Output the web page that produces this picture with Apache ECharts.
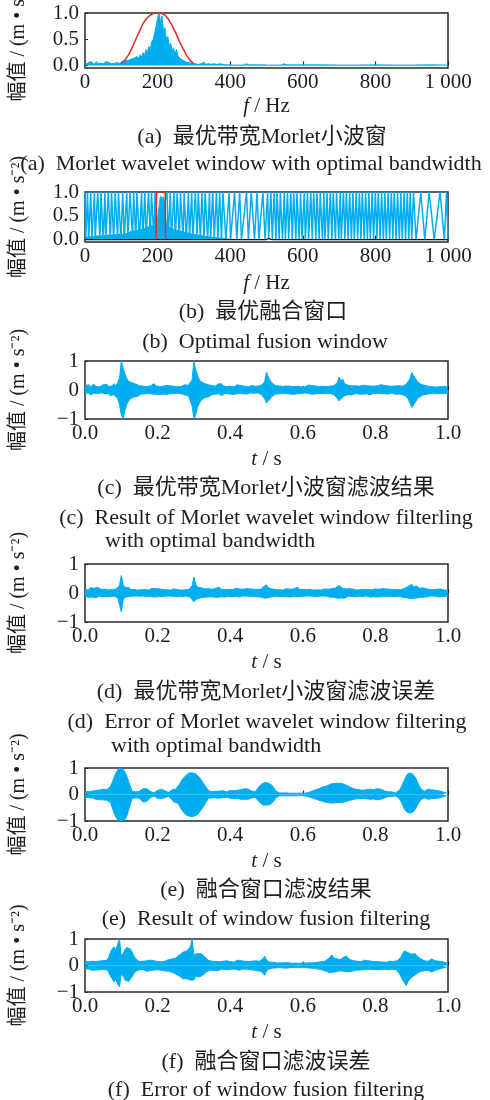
<!DOCTYPE html>
<html>
<head>
<meta charset="utf-8">
<script src="https://cdn.jsdelivr.net/npm/echarts@6.0.0/dist/echarts.min.js"></script>
<style>
  html, body { margin: 0; padding: 0; background: #fff; }
  #chart { width: 490px; height: 1100px; }
</style>
</head>
<body>
<div id="chart"></div>
<script>
// (a) spectrum, 4 Hz steps from 0 to 596 Hz, then 50 Hz steps from 600 Hz
const spectrumStep = 4;
const spectrumA = [
  0.05,0.06,0.03,0.07,0.04,0.06,0.02,0.05,0.07,0.03,0.06,0.04,0.05,0.03,0.07,0.04,0.06,0.05,0.03,0.06,0.04,0.07,0.05,0.06,0.04,
  0.06,0.08,0.05,0.09,0.07,0.1,0.08,0.12,0.09,0.14,0.11,0.17,0.13,0.2,0.16,0.24,0.19,0.3,0.25,0.36,0.3,0.45,0.5,0.62,0.75,
  0.9,1.0,0.82,0.95,0.66,0.72,0.5,0.55,0.38,0.42,0.28,0.33,0.22,0.3,0.18,0.2,0.12,0.15,0.09,0.1,0.06,0.08,0.05,0.07,0.04,
  0.05,0.03,0.06,0.02,0.05,0.03,0.04,0.06,0.02,0.05,0.03,0.04,0.02,0.05,0.03,0.06,0.02,0.04,0.03,0.05,0.02,0.04,0.01,0.02,0.01,
  0.01,0.005,0.01,0.005,0.01,0.005,0.01,0.005,0.01,0.005,0.01,0.03,0.005,0.01,0.005,0.01,0.005,0.01,0.005,0.01,0.005,0.01,0.005,0.01,0.03,
  0.005,0.01,0.005,0.01,0.005,0.01,0.005,0.01,0.005,0.01,0.005,0.01,0.03,0.005,0.01,0.005,0.01,0.005,0.01,0.005,0.01,0.005,0.01,0.005,0.01
];
const spectrumTailStart = 600;
const spectrumTailStep = 50;
const spectrumTail = [0.005,0.01,0.005,0.005,0.01,0.005,0.005,0.01,0.005];

// (a) Morlet window (red)
const morletHz = [100,110,120,130,140,150,160,170,180,190,200,210,220,230,240,250,260,270,280,290,300];
const morletAmp = [0.04,0.1,0.2,0.34,0.5,0.65,0.8,0.9,0.96,1.0,1.0,1.0,0.96,0.88,0.76,0.62,0.46,0.32,0.19,0.09,0.03];

// (b) low spectrum band, 4 Hz steps from 0 to 396 Hz
const fusionBand = [
  0.06,0.08,0.05,0.09,0.07,0.1,0.06,0.09,0.08,0.11,0.07,0.1,0.09,0.12,0.08,0.11,0.1,0.13,0.09,0.12,0.11,0.14,0.1,0.13,0.12,
  0.14,0.11,0.15,0.13,0.16,0.12,0.17,0.15,0.18,0.14,0.19,0.17,0.2,0.16,0.22,0.19,0.24,0.2,0.26,0.22,0.28,0.25,0.3,0.27,0.33,
  0.45,0.7,0.92,0.85,0.9,0.6,0.35,0.28,0.3,0.25,0.28,0.22,0.26,0.2,0.24,0.18,0.22,0.17,0.2,0.15,0.18,0.14,0.16,0.12,0.15,
  0.11,0.14,0.1,0.12,0.09,0.11,0.08,0.1,0.07,0.09,0.06,0.08,0.05,0.07,0.05,0.06,0.04,0.05,0.03,0.04,0.03,0.02,0.02,0.01,0.01
];
// (b) fused window switching line, [Hz, amplitude]
const switchPts = [
  [0,1],[2,0],[7,1],[10,0],[16,1],[19,0],[26,1],[28,0],[35,1],[41,0],[44,1],[50,0],[55,1],[57,0],[64,1],[70,0],
  [73,1],[79,0],[83,1],[90,0],[92,1],[99,0],[104,1],[108,0],[115,1],[118,0],[124,1],[131,0],[134,1],[140,0],
  [143,1],[150,0],[156,1],[159,0],[165,1],[168,0],[175,1],[180,0],[183,1],[190,0],[193,1],[196,0],
  [226,1],[229,0],[235,1],[238,0],[245,1],[249,0],[254,1],[260,0],[263,1],[270,0],[273,1],[279,0],[285,1],[288,0],
  [294,1],[297,0],[304,1],[309,0],[312,1],[318,0],[322,1],[328,0],[331,1],[338,0],[343,1],[346,0],[352,1],[356,0],
  [362,1],[366,0],[371,1],[376,0],
  [380,1],[388,0],[397,1],[401,0],[412,1],[418,0],[426,1],[431,0],[445,1],[450,0],[458,1],[467,0],[474,1],[479,0],
  [490,1],[496,0],
  [503,1],[506,0],[512,1],[516,0],[521,1],[526,0],[529,1],[535,0],[538,1],[544,0],[549,1],[552,0],[558,1],[561,0],
  [567,1],[571,0],[575,1],[581,0],[584,1],[590,0],[594,1],[598,0],[604,1],[607,0],[613,1],[616,0],[622,1],[626,0],
  [630,1],[636,0],[639,1],[645,0],[648,1],[654,0],[658,1],[661,0],[667,1],[670,0],[676,1],[680,0],[684,1],[690,0],
  [693,1],[699,0],[703,1],[706,0],[712,1],[716,0],[720,1],[725,0],[729,1],[734,0],[738,1],[742,0],[747,1],[751,0],
  [756,1],[760,0],[764,1],[769,0],[773,1],[778,0],[782,1],[786,0],[791,1],[795,0],[800,1],[804,0],[808,1],[813,0],
  [817,1],[822,0],[826,1],[830,0],[835,1],[839,0],[844,1],[848,0],[852,1],[857,0],[861,1],[866,0],[870,1],[874,0],
  [879,1],[883,0],[888,1],[892,0],[896,1],[900,0],
  [905,1],[912,0],[925,1],[936,0],[948,1],[962,0],[978,1],[990,0],[996,1],[1000,0]
];
const fusionWinHz = [196,197,221,222];
const fusionWinAmp = [0,1,1,0];
const baseHz = [0,500,506,512,520,600,605,612,1000];
const baseAmp = [0,0,0.03,0.005,0,0,0.02,0,0];

// (c)-(f) signal envelopes, 0.005 s steps from 0 to 1 s
const timeStep = 0.005;
const morletResultHi = [
  0.15,0.12,0.18,0.1,0.14,0.2,0.12,0.16,0.11,0.15,
  0.18,0.13,0.2,0.12,0.16,0.14,0.22,0.15,0.25,0.4,
  1.0,0.75,0.55,0.4,0.3,0.35,0.25,0.28,0.2,0.18,
  0.15,0.2,0.13,0.17,0.12,0.18,0.14,0.16,0.22,0.14,
  0.15,0.12,0.18,0.13,0.1,0.16,0.12,0.14,0.1,0.13,
  0.15,0.11,0.17,0.12,0.14,0.18,0.13,0.16,0.2,0.35,
  1.0,0.7,0.5,0.35,0.28,0.3,0.22,0.25,0.18,0.2,
  0.15,0.18,0.13,0.2,0.15,0.22,0.14,0.17,0.12,0.15,
  0.13,0.16,0.11,0.14,0.18,0.12,0.15,0.2,0.13,0.15,
  0.12,0.1,0.15,0.11,0.13,0.1,0.14,0.12,0.2,0.3,
  0.62,0.45,0.32,0.25,0.2,0.15,0.12,0.14,0.1,0.12,
  0.11,0.14,0.1,0.13,0.16,0.12,0.18,0.13,0.15,0.11,
  0.14,0.1,0.13,0.17,0.12,0.15,0.11,0.14,0.1,0.12,
  0.11,0.13,0.1,0.12,0.09,0.13,0.11,0.15,0.18,0.25,
  0.45,0.3,0.38,0.22,0.25,0.16,0.2,0.14,0.12,0.15,
  0.1,0.13,0.11,0.16,0.12,0.15,0.11,0.14,0.2,0.13,
  0.12,0.15,0.11,0.18,0.13,0.16,0.12,0.14,0.11,0.13,
  0.1,0.14,0.12,0.15,0.11,0.13,0.16,0.2,0.25,0.38,
  0.6,0.5,0.4,0.3,0.25,0.2,0.22,0.16,0.18,0.13,
  0.15,0.12,0.14,0.1,0.13,0.11,0.15,0.12,0.1,0.13,
  0.12
];
const morletResultLo = [
  -0.12,-0.15,-0.1,-0.17,-0.13,-0.11,-0.16,-0.12,-0.14,-0.1,
  -0.15,-0.12,-0.17,-0.13,-0.2,-0.14,-0.16,-0.22,-0.3,-0.5,
  -0.85,-1.0,-0.7,-0.5,-0.38,-0.3,-0.32,-0.24,-0.2,-0.22,
  -0.17,-0.14,-0.19,-0.13,-0.16,-0.12,-0.18,-0.14,-0.12,-0.15,
  -0.13,-0.16,-0.11,-0.14,-0.12,-0.15,-0.1,-0.13,-0.16,-0.12,
  -0.14,-0.11,-0.16,-0.13,-0.12,-0.17,-0.14,-0.2,-0.25,-0.55,
  -1.0,-0.85,-0.6,-0.45,-0.35,-0.3,-0.26,-0.22,-0.24,-0.18,
  -0.16,-0.19,-0.14,-0.17,-0.13,-0.2,-0.15,-0.12,-0.16,-0.13,
  -0.12,-0.15,-0.11,-0.14,-0.17,-0.12,-0.15,-0.13,-0.11,-0.14,
  -0.12,-0.1,-0.13,-0.11,-0.14,-0.1,-0.12,-0.15,-0.2,-0.3,
  -0.45,-0.38,-0.3,-0.22,-0.18,-0.14,-0.12,-0.13,-0.1,-0.12,
  -0.1,-0.13,-0.11,-0.14,-0.12,-0.15,-0.11,-0.13,-0.1,-0.12,
  -0.13,-0.1,-0.14,-0.11,-0.12,-0.15,-0.1,-0.13,-0.11,-0.12,
  -0.1,-0.12,-0.09,-0.13,-0.11,-0.12,-0.14,-0.16,-0.2,-0.28,
  -0.38,-0.3,-0.25,-0.2,-0.22,-0.16,-0.14,-0.17,-0.13,-0.12,
  -0.11,-0.14,-0.12,-0.15,-0.11,-0.13,-0.12,-0.16,-0.13,-0.12,
  -0.14,-0.11,-0.16,-0.12,-0.15,-0.13,-0.11,-0.14,-0.12,-0.1,
  -0.12,-0.15,-0.11,-0.14,-0.13,-0.16,-0.18,-0.22,-0.3,-0.45,
  -0.6,-0.55,-0.42,-0.32,-0.25,-0.22,-0.18,-0.2,-0.15,-0.16,
  -0.13,-0.15,-0.11,-0.14,-0.12,-0.1,-0.13,-0.11,-0.12,-0.1,
  -0.11
];
const morletErrorHi = [
  0.12,0.15,0.1,0.18,0.13,0.16,0.11,0.2,0.14,0.12,
  0.18,0.13,0.16,0.1,0.15,0.12,0.17,0.14,0.2,0.25,
  0.6,0.3,0.18,0.15,0.2,0.13,0.16,0.12,0.14,0.1,
  0.13,0.11,0.15,0.12,0.14,0.1,0.13,0.16,0.12,0.15,
  0.11,0.14,0.1,0.12,0.15,0.11,0.13,0.1,0.12,0.14,
  0.16,0.12,0.14,0.1,0.13,0.11,0.15,0.12,0.18,0.25,
  0.55,0.3,0.2,0.15,0.18,0.12,0.14,0.11,0.15,0.12,
  0.13,0.1,0.16,0.12,0.2,0.13,0.15,0.11,0.14,0.12,
  0.15,0.11,0.13,0.16,0.12,0.14,0.1,0.13,0.11,0.15,
  0.12,0.14,0.11,0.13,0.18,0.12,0.15,0.13,0.2,0.16,
  0.28,0.18,0.22,0.14,0.17,0.12,0.15,0.11,0.13,0.1,
  0.12,0.15,0.11,0.13,0.1,0.14,0.12,0.2,0.13,0.15,
  0.12,0.16,0.11,0.14,0.12,0.13,0.1,0.12,0.11,0.14,
  0.1,0.12,0.14,0.11,0.13,0.12,0.15,0.13,0.17,0.2,
  0.26,0.2,0.16,0.22,0.14,0.12,0.15,0.11,0.13,0.12,
  0.1,0.14,0.12,0.16,0.11,0.13,0.12,0.15,0.11,0.12,
  0.14,0.11,0.13,0.1,0.15,0.12,0.14,0.11,0.13,0.12,
  0.11,0.13,0.12,0.15,0.11,0.14,0.16,0.18,0.22,0.28,
  0.3,0.22,0.18,0.24,0.16,0.14,0.18,0.12,0.15,0.13,
  0.11,0.14,0.12,0.16,0.13,0.11,0.14,0.12,0.1,0.12,
  0.1
];
const morletErrorLo = [
  -0.12,-0.1,-0.15,-0.11,-0.14,-0.12,-0.16,-0.13,-0.11,-0.14,
  -0.12,-0.16,-0.13,-0.18,-0.12,-0.15,-0.11,-0.13,-0.16,-0.2,
  -0.65,-0.25,-0.15,-0.18,-0.12,-0.14,-0.11,-0.13,-0.1,-0.12,
  -0.11,-0.14,-0.1,-0.13,-0.12,-0.15,-0.11,-0.12,-0.14,-0.11,
  -0.13,-0.1,-0.12,-0.14,-0.11,-0.13,-0.1,-0.12,-0.11,-0.13,
  -0.12,-0.15,-0.11,-0.13,-0.12,-0.14,-0.11,-0.13,-0.15,-0.2,
  -0.3,-0.22,-0.16,-0.18,-0.13,-0.15,-0.12,-0.14,-0.11,-0.13,
  -0.1,-0.14,-0.12,-0.15,-0.11,-0.13,-0.12,-0.14,-0.1,-0.12,
  -0.11,-0.13,-0.15,-0.11,-0.12,-0.14,-0.12,-0.1,-0.13,-0.11,
  -0.13,-0.11,-0.14,-0.12,-0.15,-0.13,-0.11,-0.14,-0.16,-0.18,
  -0.2,-0.16,-0.18,-0.13,-0.15,-0.11,-0.13,-0.12,-0.1,-0.12,
  -0.11,-0.13,-0.12,-0.14,-0.11,-0.12,-0.15,-0.13,-0.11,-0.12,
  -0.13,-0.11,-0.14,-0.1,-0.12,-0.11,-0.13,-0.12,-0.1,-0.11,
  -0.12,-0.1,-0.13,-0.11,-0.12,-0.14,-0.12,-0.15,-0.16,-0.18,
  -0.2,-0.17,-0.15,-0.18,-0.13,-0.11,-0.14,-0.12,-0.1,-0.13,
  -0.12,-0.11,-0.14,-0.12,-0.13,-0.1,-0.12,-0.14,-0.11,-0.13,
  -0.12,-0.14,-0.11,-0.13,-0.1,-0.12,-0.13,-0.11,-0.14,-0.12,
  -0.1,-0.12,-0.14,-0.11,-0.13,-0.15,-0.12,-0.16,-0.18,-0.2,
  -0.22,-0.18,-0.15,-0.17,-0.13,-0.15,-0.12,-0.14,-0.11,-0.13,
  -0.12,-0.1,-0.13,-0.11,-0.12,-0.14,-0.11,-0.12,-0.1,-0.11,
  -0.1
];
const fusionResultHi = [
  0.12,0.15,0.1,0.16,0.13,0.18,0.15,0.2,0.17,0.22,
  0.2,0.25,0.18,0.2,0.3,0.45,0.65,0.8,0.92,1.0,
  1.0,0.95,0.85,0.7,0.5,0.3,0.12,0.08,0.1,0.15,
  0.12,0.18,0.22,0.25,0.22,0.18,0.12,0.08,0.06,0.1,
  0.15,0.18,0.2,0.16,0.14,0.1,0.08,0.12,0.18,0.25,
  0.2,0.3,0.38,0.5,0.6,0.68,0.75,0.8,0.82,0.82,
  0.8,0.78,0.72,0.65,0.55,0.45,0.35,0.25,0.15,0.12,
  0.1,0.14,0.12,0.16,0.13,0.17,0.14,0.12,0.1,0.13,
  0.15,0.12,0.14,0.11,0.16,0.13,0.18,0.2,0.22,0.2,
  0.2,0.16,0.12,0.1,0.12,0.18,0.3,0.38,0.42,0.45,
  0.45,0.43,0.4,0.35,0.28,0.15,0.08,0.06,0.05,0.06,
  0.05,0.06,0.04,0.05,0.06,0.05,0.04,0.05,0.06,0.05,
  0.06,0.05,0.08,0.07,0.1,0.12,0.15,0.18,0.2,0.22,
  0.25,0.28,0.3,0.32,0.35,0.38,0.4,0.42,0.43,0.42,
  0.4,0.42,0.4,0.38,0.35,0.32,0.28,0.25,0.22,0.2,
  0.22,0.18,0.2,0.16,0.22,0.18,0.25,0.2,0.22,0.18,
  0.2,0.22,0.18,0.2,0.16,0.14,0.12,0.1,0.08,0.1,
  0.1,0.06,0.1,0.15,0.25,0.4,0.55,0.7,0.8,0.82,
  0.8,0.75,0.65,0.5,0.35,0.22,0.15,0.12,0.18,0.2,
  0.22,0.18,0.2,0.16,0.18,0.14,0.12,0.1,0.08,0.06,
  0.05
];
const fusionResultLo = [
  -0.1,-0.14,-0.12,-0.16,-0.13,-0.15,-0.18,-0.16,-0.2,-0.18,
  -0.2,-0.17,-0.22,-0.18,-0.3,-0.5,-0.7,-0.85,-0.95,-1.0,
  -1.0,-1.0,-0.95,-0.82,-0.6,-0.35,-0.15,-0.08,-0.12,-0.18,
  -0.15,-0.22,-0.28,-0.3,-0.26,-0.2,-0.12,-0.08,-0.06,-0.1,
  -0.14,-0.17,-0.15,-0.13,-0.12,-0.09,-0.07,-0.12,-0.2,-0.28,
  -0.22,-0.32,-0.42,-0.55,-0.65,-0.72,-0.78,-0.82,-0.83,-0.83,
  -0.82,-0.8,-0.75,-0.68,-0.58,-0.48,-0.36,-0.25,-0.15,-0.12,
  -0.12,-0.15,-0.13,-0.17,-0.14,-0.16,-0.12,-0.14,-0.1,-0.12,
  -0.14,-0.13,-0.15,-0.12,-0.14,-0.16,-0.18,-0.2,-0.18,-0.2,
  -0.18,-0.15,-0.12,-0.1,-0.12,-0.18,-0.28,-0.35,-0.4,-0.4,
  -0.4,-0.4,-0.38,-0.32,-0.25,-0.14,-0.08,-0.05,-0.04,-0.05,
  -0.04,-0.05,-0.04,-0.05,-0.04,-0.05,-0.04,-0.05,-0.05,-0.04,
  -0.05,-0.05,-0.07,-0.08,-0.1,-0.12,-0.14,-0.17,-0.2,-0.22,
  -0.24,-0.26,-0.28,-0.3,-0.32,-0.32,-0.33,-0.32,-0.32,-0.3,
  -0.32,-0.3,-0.3,-0.28,-0.26,-0.24,-0.22,-0.2,-0.18,-0.17,
  -0.18,-0.16,-0.18,-0.15,-0.17,-0.16,-0.2,-0.18,-0.2,-0.17,
  -0.18,-0.2,-0.17,-0.18,-0.15,-0.13,-0.1,-0.08,-0.06,-0.08,
  -0.08,-0.05,-0.08,-0.14,-0.25,-0.4,-0.55,-0.65,-0.7,-0.7,
  -0.7,-0.65,-0.55,-0.42,-0.3,-0.2,-0.14,-0.12,-0.16,-0.18,
  -0.2,-0.16,-0.18,-0.15,-0.16,-0.13,-0.11,-0.09,-0.07,-0.05,
  -0.04
];
const fusionErrorHi = [
  0.15,0.18,0.14,0.2,0.16,0.18,0.15,0.2,0.17,0.15,
  0.18,0.16,0.2,0.3,0.5,0.62,0.7,0.6,0.8,1.0,
  0.35,0.45,0.6,0.68,0.7,0.62,0.5,0.35,0.25,0.18,
  0.15,0.2,0.16,0.22,0.18,0.15,0.2,0.14,0.18,0.16,
  0.15,0.18,0.14,0.2,0.16,0.18,0.22,0.2,0.25,0.3,
  0.28,0.35,0.4,0.45,0.5,0.45,0.55,0.6,0.7,1.0,
  0.4,0.35,0.45,0.48,0.45,0.4,0.32,0.25,0.2,0.18,
  0.16,0.2,0.15,0.18,0.14,0.2,0.16,0.13,0.18,0.15,
  0.14,0.17,0.13,0.16,0.2,0.15,0.18,0.14,0.16,0.13,
  0.15,0.12,0.16,0.14,0.18,0.2,0.16,0.22,0.25,0.35,
  0.2,0.15,0.12,0.1,0.12,0.1,0.09,0.11,0.1,0.12,
  0.1,0.09,0.11,0.1,0.08,0.1,0.09,0.1,0.08,0.09,
  0.1,0.08,0.09,0.11,0.1,0.12,0.1,0.13,0.12,0.15,
  0.14,0.18,0.16,0.22,0.25,0.3,0.4,0.28,0.32,0.25,
  0.28,0.22,0.3,0.25,0.35,0.28,0.22,0.25,0.18,0.2,
  0.16,0.18,0.14,0.17,0.2,0.15,0.18,0.14,0.16,0.18,
  0.15,0.18,0.14,0.16,0.13,0.15,0.12,0.14,0.16,0.13,
  0.15,0.12,0.18,0.22,0.3,0.45,0.55,0.6,0.48,0.5,
  0.42,0.38,0.45,0.35,0.3,0.25,0.22,0.18,0.2,0.16,
  0.2,0.25,0.22,0.18,0.2,0.16,0.18,0.14,0.12,0.1,
  0.08
];
const fusionErrorLo = [
  -0.14,-0.17,-0.13,-0.16,-0.18,-0.15,-0.17,-0.14,-0.16,-0.18,
  -0.15,-0.18,-0.16,-0.25,-0.4,-0.5,-0.62,-0.5,-0.7,-0.8,
  -0.3,-0.4,-0.55,-0.62,-0.6,-0.5,-0.42,-0.3,-0.22,-0.18,
  -0.16,-0.2,-0.15,-0.18,-0.22,-0.16,-0.19,-0.15,-0.17,-0.14,
  -0.16,-0.14,-0.18,-0.15,-0.2,-0.17,-0.22,-0.2,-0.25,-0.3,
  -0.32,-0.35,-0.4,-0.45,-0.5,-0.55,-0.5,-0.45,-0.55,-0.6,
  -0.55,-0.4,-0.45,-0.43,-0.4,-0.36,-0.3,-0.24,-0.2,-0.17,
  -0.15,-0.18,-0.14,-0.2,-0.16,-0.14,-0.18,-0.15,-0.13,-0.16,
  -0.15,-0.13,-0.17,-0.14,-0.16,-0.18,-0.15,-0.13,-0.16,-0.14,
  -0.13,-0.16,-0.14,-0.17,-0.15,-0.2,-0.18,-0.22,-0.28,-0.37,
  -0.22,-0.14,-0.12,-0.1,-0.11,-0.09,-0.1,-0.08,-0.1,-0.09,
  -0.08,-0.1,-0.09,-0.08,-0.1,-0.07,-0.09,-0.08,-0.1,-0.08,
  -0.09,-0.08,-0.1,-0.09,-0.11,-0.1,-0.12,-0.11,-0.13,-0.14,
  -0.15,-0.17,-0.2,-0.22,-0.25,-0.28,-0.3,-0.25,-0.28,-0.22,
  -0.25,-0.2,-0.26,-0.22,-0.28,-0.24,-0.2,-0.22,-0.17,-0.18,
  -0.15,-0.17,-0.14,-0.16,-0.18,-0.15,-0.17,-0.14,-0.16,-0.15,
  -0.14,-0.16,-0.13,-0.15,-0.12,-0.14,-0.13,-0.15,-0.12,-0.14,
  -0.13,-0.15,-0.2,-0.28,-0.4,-0.55,-0.65,-0.75,-0.6,-0.5,
  -0.45,-0.4,-0.35,-0.3,-0.26,-0.22,-0.25,-0.2,-0.22,-0.18,
  -0.22,-0.25,-0.2,-0.18,-0.16,-0.14,-0.12,-0.1,-0.08,-0.06,
  -0.05
];

const captions = [
  ['(a)  最优带宽Morlet小波窗', 262, 137],
  ['(a)  Morlet wavelet window with optimal bandwidth', 251, 164],
  ['(b)  最优融合窗口', 263, 312],
  ['(b)  Optimal fusion window', 265, 342],
  ['(c)  最优带宽Morlet小波窗滤波结果', 266, 488],
  ['(c)  Result of Morlet wavelet window filterling', 266, 518],
  ['(d)  最优带宽Morlet小波窗滤波误差', 266, 692],
  ['(d)  Error of Morlet wavelet window filtering', 267, 722],
  ['(e)  融合窗口滤波结果', 266, 890],
  ['(e)  Result of window fusion filtering', 266, 919],
  ['(f)  融合窗口滤波误差', 266, 1062],
  ['(f)  Error of window fusion filtering', 266, 1090]
];
const captionTails = [
  ['with optimal bandwidth', 105, 541],
  ['with optimal bandwidth', 111, 746]
];

const BLUE = '#00aeef';
const RED = '#e8262a';
const FONT = '"Liberation Serif", "Noto Sans CJK SC", serif';
const TEXT = '#1e1e1e';

const boxes = [
  { top: 13, height: 55, nameGap: 28 },
  { top: 192, height: 50, nameGap: 31 },
  { top: 361, height: 58, nameGap: 30 },
  { top: 564, height: 58, nameGap: 30 },
  { top: 768, height: 53, nameGap: 30 },
  { top: 939, height: 53, nameGap: 30 }
];

const grid = boxes.map(b => ({
  left: 85, width: 363, top: b.top, height: b.height,
  containLabel: false, outerBoundsMode: 'none',
  show: true, borderColor: '#2a2a2a', borderWidth: 1.5, backgroundColor: 'transparent'
}));

const labelStyle = { fontSize: 21, fontFamily: FONT, color: TEXT };

const xAxis = boxes.map((b, i) => {
  const freq = i < 2;
  return {
    gridIndex: i, type: 'value',
    min: 0, max: freq ? 1000 : 1, interval: freq ? 200 : 0.2,
    axisLine: { show: false },
    axisTick: { show: true, inside: true, length: 4, lineStyle: { color: '#2a2a2a', width: 1.2 } },
    splitLine: { show: false },
    axisLabel: Object.assign({}, labelStyle, {
      margin: 4,
      formatter: v => freq ? (v === 1000 ? '1 000' : String(v)) : v.toFixed(1)
    }),
    name: freq ? '{i|f} / Hz' : '{i|t} / s',
    nameLocation: 'middle', nameGap: b.nameGap,
    nameTextStyle: Object.assign({}, labelStyle, {
      rich: { i: { fontStyle: 'italic', fontSize: 21, fontFamily: FONT, color: TEXT } }
    })
  };
});

const yAxis = boxes.map((b, i) => {
  const freq = i < 2;
  const ax = {
    gridIndex: i, type: 'value',
    axisLine: { show: false },
    splitLine: { show: false },
    axisTick: { show: true, inside: true, length: 3, lineStyle: { color: '#2a2a2a' } },
    axisLabel: Object.assign({}, labelStyle, { margin: 6 }),
    name: '幅值 / (m • s⁻²)',
    nameLocation: 'middle', nameRotate: 90, nameGap: 56,
    nameTextStyle: Object.assign({}, labelStyle, { fontSize: 20 })
  };
  if (freq) {
    ax.min = -0.05; ax.max = 1;
    ax.axisLabel.customValues = [0, 0.5, 1];
    ax.axisTick.customValues = [0, 0.5, 1];
    ax.axisLabel.formatter = v => v.toFixed(1);
  } else {
    ax.min = -1; ax.max = 1; ax.interval = 1;
    ax.axisLabel.formatter = v => (v < 0 ? '\u2212' + Math.abs(v) : String(v));
  }
  return ax;
});

function line(idx, data, color, extra) {
  return Object.assign({
    type: 'line', xAxisIndex: idx, yAxisIndex: idx, data: data,
    showSymbol: false, symbol: 'none', sampling: 'none', silent: true,
    lineStyle: { color: color, width: 1 }
  }, extra || {});
}
function filled(idx, data) {
  return line(idx, data, BLUE, { areaStyle: { color: BLUE, opacity: 1, origin: 'auto' } });
}

const specData = spectrumA.map((v, i) => [i * spectrumStep, v])
  .concat(spectrumTail.map((v, i) => [spectrumTailStart + i * spectrumTailStep, v]));
const bandData = fusionBand.map((v, i) => [i * spectrumStep, v]);
const timed = arr => arr.map((v, i) => [i * timeStep, v]);
const pairs = (xs, ys) => xs.map((x, i) => [x, ys[i]]);

const series = [
  filled(0, specData),
  line(0, pairs(morletHz, morletAmp), RED, { lineStyle: { color: RED, width: 1.5 } }),

  filled(1, bandData),
  line(1, switchPts, BLUE, { lineStyle: { color: BLUE, width: 1.5 } }),
  line(1, pairs(baseHz, baseAmp), '#111', { lineStyle: { color: '#111', width: 1.2 } }),
  line(1, pairs(fusionWinHz, fusionWinAmp), RED, { lineStyle: { color: RED, width: 1.5 } }),

  filled(2, timed(morletResultHi)), filled(2, timed(morletResultLo)),
  filled(3, timed(morletErrorHi)), filled(3, timed(morletErrorLo)),
  filled(4, timed(fusionResultHi)), filled(4, timed(fusionResultLo)),
  filled(5, timed(fusionErrorHi)), filled(5, timed(fusionErrorLo))
];

const graphic = captions.map(c => ({
  type: 'text', x: c[1], y: c[2], silent: true,
  style: { text: c[0], fontSize: 22, fontFamily: FONT, fill: TEXT, align: 'center', verticalAlign: 'middle' }
})).concat(captionTails.map(c => ({
  type: 'text', x: c[1], y: c[2], silent: true,
  style: { text: c[0], fontSize: 22, fontFamily: FONT, fill: TEXT, align: 'left', verticalAlign: 'middle' }
})));

const chart = echarts.init(document.getElementById('chart'), null, { renderer: 'canvas' });
chart.setOption({
  animation: false,
  backgroundColor: '#fff',
  grid: grid,
  xAxis: xAxis,
  yAxis: yAxis,
  series: series,
  graphic: graphic
});
</script>
</body>
</html>
